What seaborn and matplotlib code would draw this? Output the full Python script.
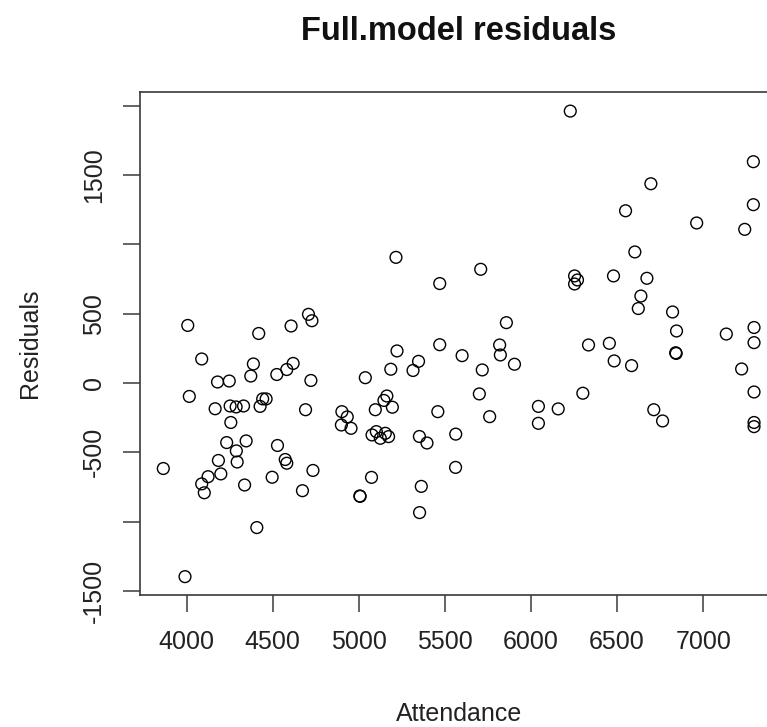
import numpy as np
import pandas as pd
import matplotlib
matplotlib.use("Agg")
import matplotlib.pyplot as plt
import seaborn as sns

# ===================== data =====================
attendance = [6228, 7291, 6696, 6549, 6962, 7291, 7241, 6603, 5216, 5708,
              5470, 6253, 6270, 6253, 6479, 6673, 6638, 6623, 6822, 5857,
              6845, 7134, 7295, 4007, 4419, 4607, 4708, 4728,
              4088, 4388, 4373, 4180, 4248, 4524, 4582, 4619, 4722, 4016,
              4166, 4253, 4288, 4331, 4427, 4442, 4462, 4257, 4691, 4902,
              4933, 4899, 4955, 4233, 4346, 4528, 4289, 4294, 4185, 4199,
              4125, 4088, 4103, 4337, 4497, 4573, 4582, 4734, 4673, 3865,
              4408, 3991,
              5038, 5222, 5186, 5315, 5347, 5470, 5096, 5146, 5163, 5195,
              5459, 5077, 5102, 5125, 5154, 5173, 5352, 5396, 5074, 5006,
              5008, 5363, 5353, 5563, 5562, 5600, 5818, 5822, 5904, 5717,
              5700, 5760, 6043, 6043, 6158,
              6334, 6455, 6483, 6584, 6301, 6713, 6764, 6840, 6843, 7223,
              7295, 7295, 7295, 7295]
residuals = [1961, 1596, 1437, 1242, 1154, 1286, 1108, 945, 906, 820,
             717, 772, 743, 714, 772, 755, 627, 537, 512, 435,
             375, 353, 400, 415, 357, 411, 495, 449,
             173, 137, 50, 7, 14, 61, 97, 141, 18, -97,
             -186, -166, -173, -166, -169, -115, -115, -285, -193, -207,
             -245, -303, -327, -430, -418, -451, -490, -570, -559, -656,
             -676, -728, -792, -736, -680, -552, -579, -631, -777, -617,
             -1043, -1397,
             38, 231, 99, 90, 156, 276, -193, -126, -94, -175,
             -207, -375, -351, -399, -363, -387, -386, -433, -681, -815,
             -818, -746, -935, -369, -609, 197, 274, 202, 135, 94,
             -79, -243, -169, -291, -187,
             274, 286, 159, 125, -74, -193, -274, 218, 213, 101,
             -65, -285, -315, 291]

x_ticks = [4000, 4500, 5000, 5500, 6000, 6500, 7000]
y_ticks = [-1500, -1000, -500, 0, 500, 1000, 1500, 2000]
y_tick_labels = ["-1500", "", "-500", "0", "500", "", "1500", ""]

df = pd.DataFrame({"Attendance": attendance, "Residuals": residuals})

# ===================== figure =====================
sns.set_style("white")
plt.rcParams["font.family"] = ["Liberation Sans", "DejaVu Sans"]

fig = plt.figure(figsize=(7.67, 7.27), dpi=100)
# plot region runs a bit past the right edge, like the cropped original
ax = fig.add_axes([0.1821, 0.1812, 0.8318, 0.6916])

sns.scatterplot(data=df, x="Attendance", y="Residuals", ax=ax,
                s=72, facecolor="none", edgecolor="black", linewidth=1.0)

# R style limits: data range padded by 4%
def r_lim(v):
    lo, hi = min(v), max(v)
    pad = 0.04 * (hi - lo)
    return lo - pad, hi + pad

ax.set_xlim(*r_lim(attendance))
ax.set_ylim(*r_lim(residuals))

ax.set_xticks(x_ticks)
ax.set_xticklabels([str(t) for t in x_ticks])
ax.set_yticks(y_ticks)
ax.set_yticklabels(y_tick_labels, rotation=90, va="center")

axis_col = "#3a3a3a"
for sp in ax.spines.values():
    sp.set_color(axis_col)
    sp.set_linewidth(1.2)

ax.tick_params(bottom=True, left=True, direction="out", length=12.2,
               width=1.1, color=axis_col, labelsize=18,
               labelcolor="#222222")
ax.tick_params(axis="x", pad=13)
ax.tick_params(axis="y", pad=12)

ax.set_xlabel("Attendance", fontsize=18, color="#222222")
ax.xaxis.set_label_coords(0.5, -0.236)
ax.xaxis.label.set_va("center")
ax.set_ylabel("Residuals", fontsize=18, color="#222222")
ax.yaxis.set_label_coords(-0.172, 0.502)
ax.yaxis.label.set_va("center")

ax.text(0.5, 1.1203, "Full.model residuals", transform=ax.transAxes,
        fontsize=23.5, fontweight="bold", ha="center", va="center",
        color="#111111")

plt.savefig("out.png", dpi=100)
